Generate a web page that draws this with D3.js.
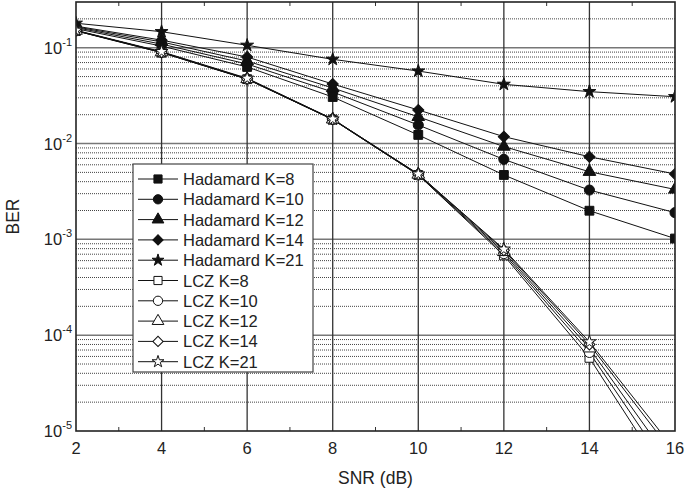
<!DOCTYPE html>
<html>
<head>
<meta charset="utf-8">
<script src="https://cdn.jsdelivr.net/npm/d3@7"></script>
<style>
  body { margin: 0; background: #fff; }
  text { font-family: "Liberation Sans", Arial, sans-serif; fill: #222; }
  .tick-label { font-size: 16.5px; }
  .axis-title { font-size: 17.5px; }
  .legend-text { font-size: 16.5px; }
</style>
</head>
<body>
<div id="chart"></div>
<script>
// data
const snr = [2, 4, 6, 8, 10, 12, 14, 16];
const xTicks = [2, 4, 6, 8, 10, 12, 14, 16];
const yDecades = [-5, -4, -3, -2, -1];

const had8  = [0.158, 0.104, 0.063, 0.0306, 0.0123, 0.0047, 0.00199, 0.00102];
const had10 = [0.162, 0.109, 0.0676, 0.0345, 0.0156, 0.00684, 0.00327, 0.0019];
const had12 = [0.165, 0.115, 0.0726, 0.038, 0.019, 0.0093, 0.00508, 0.00332];
const had14 = [0.168, 0.12, 0.080, 0.0418, 0.0224, 0.0118, 0.00728, 0.00481];
const had21 = [0.18, 0.147, 0.106, 0.0757, 0.0571, 0.0415, 0.0348, 0.0308];

const lcz8  = [0.150, 0.089, 0.047, 0.0178, 0.0047, 0.00068, 0.000058, 0.0000024];
const lcz10 = [0.150, 0.089, 0.047, 0.0178, 0.0047, 0.00071, 0.000066, 0.0000032];
const lcz12 = [0.151, 0.090, 0.0472, 0.0179, 0.00475, 0.00074, 0.000073, 0.0000041];
const lcz14 = [0.151, 0.090, 0.0475, 0.018, 0.0048, 0.00077, 0.00008, 0.0000055];
const lcz21 = [0.152, 0.091, 0.048, 0.018, 0.0048, 0.00079, 0.000085, 0.0000063];

const seriesNames = ["Hadamard K=8", "Hadamard K=10", "Hadamard K=12", "Hadamard K=14", "Hadamard K=21",
                     "LCZ K=8", "LCZ K=10", "LCZ K=12", "LCZ K=14", "LCZ K=21"];
const seriesValues = [had8, had10, had12, had14, had21, lcz8, lcz10, lcz12, lcz14, lcz21];

// set the dimensions and margins of the graph
const margin = {top: 2, right: 10, bottom: 63, left: 76},
    width = 685 - margin.left - margin.right,
    height = 494 - margin.top - margin.bottom;

const svgRoot = d3.select("#chart")
  .append("svg")
    .attr("width", 685)
    .attr("height", 494);
const svg = svgRoot.append("g")
    .attr("transform", `translate(${margin.left},${margin.top})`);

const x = d3.scaleLinear().domain([2, 16]).range([0, width]);
const y = d3.scaleLog().domain([1e-5, 0.3]).range([height, 0]);

svg.append("clipPath").attr("id", "plotClip")
  .append("rect").attr("width", width).attr("height", height);

// minor horizontal grid (dotted)
const minorY = [];
for (let e = -5; e <= -1; e++) {
  for (let m = 2; m <= 9; m++) {
    const v = m * Math.pow(10, e);
    if (v < 0.3) minorY.push(v);
  }
}
svg.append("g").selectAll("line")
  .data(minorY)
  .join("line")
    .attr("x1", 0).attr("x2", width)
    .attr("y1", d => y(d)).attr("y2", d => y(d))
    .attr("stroke", "#444")
    .attr("stroke-width", 1)
    .attr("stroke-dasharray", "1,1");

// major horizontal grid
svg.append("g").selectAll("line")
  .data(yDecades.slice(1))
  .join("line")
    .attr("x1", 0).attr("x2", width)
    .attr("y1", d => y(Math.pow(10, d))).attr("y2", d => y(Math.pow(10, d)))
    .attr("stroke", "#777")
    .attr("stroke-width", 1.5);

// vertical grid
svg.append("g").selectAll("line")
  .data(xTicks.slice(1, -1))
  .join("line")
    .attr("x1", d => x(d)).attr("x2", d => x(d))
    .attr("y1", 0).attr("y2", height)
    .attr("stroke", "#333")
    .attr("stroke-width", 1.3);

// minor x ticks
const minorX = [3, 5, 7, 9, 11, 13, 15];
svg.append("g").selectAll("line")
  .data(minorX)
  .join("line")
    .attr("x1", d => x(d)).attr("x2", d => x(d))
    .attr("y1", height).attr("y2", height - 4)
    .attr("stroke", "#333");
svg.append("g").selectAll("line")
  .data(minorX)
  .join("line")
    .attr("x1", d => x(d)).attr("x2", d => x(d))
    .attr("y1", 0).attr("y2", 4)
    .attr("stroke", "#333");

// symbols
function markerPath(i, scale) {
  const k = i % 5;
  const s = scale || 1;
  if (k === 0) return d3.symbol().type(d3.symbolSquare).size(78 * s)();
  if (k === 1) return d3.symbol().type(d3.symbolCircle).size(80 * s)();
  if (k === 2) return d3.symbol().type(d3.symbolTriangle).size(70 * s)();
  if (k === 3) return d3.symbol().type(d3.symbolSquare).size(62 * s)();
  return d3.symbol().type(d3.symbolStar).size(52 * s)();
}
function markerRotate(i) {
  return (i % 5 === 3) ? " rotate(45)" : "";
}

const line = d3.line()
  .x((d, i) => x(snr[i]))
  .y(d => y(d));

const plot = svg.append("g").attr("clip-path", "url(#plotClip)");

// lines
plot.append("g").selectAll("path")
  .data(seriesValues)
  .join("path")
    .attr("fill", "none")
    .attr("stroke", "#111")
    .attr("stroke-width", 1)
    .attr("d", d => line(d));

// markers
seriesValues.forEach((vals, si) => {
  plot.append("g").selectAll("path")
    .data(vals.map((v, i) => ({x: snr[i], v: v})).filter(d => d.v >= 1e-5))
    .join("path")
      .attr("d", markerPath(si))
      .attr("transform", d => `translate(${x(d.x)},${y(d.v)})${markerRotate(si)}`)
      .attr("fill", si < 5 ? "#111" : "#fff")
      .attr("stroke", "#111")
      .attr("stroke-width", 1);
});

// frame
svg.append("rect")
  .attr("width", width).attr("height", height)
  .attr("fill", "none")
  .attr("stroke", "#222")
  .attr("stroke-width", 1.6);

// x tick labels
svg.append("g").selectAll("text")
  .data(xTicks)
  .join("text")
    .attr("class", "tick-label")
    .attr("x", d => x(d))
    .attr("y", height + 23)
    .attr("text-anchor", "middle")
    .text(d => d);

// y tick labels
const yl = svg.append("g").selectAll("text")
  .data(yDecades)
  .join("text")
    .attr("class", "tick-label")
    .attr("x", -4)
    .attr("y", d => y(Math.pow(10, d)) + 6)
    .attr("text-anchor", "end");
yl.append("tspan").text("10");
yl.append("tspan")
  .attr("dy", -8)
  .attr("font-size", "11px")
  .text(d => d);

// axis titles
svg.append("text")
  .attr("class", "axis-title")
  .attr("x", width / 2)
  .attr("y", height + 53)
  .attr("text-anchor", "middle")
  .text("SNR (dB)");
svg.append("text")
  .attr("class", "axis-title")
  .attr("transform", `translate(${-57},${height / 2}) rotate(-90)`)
  .attr("text-anchor", "middle")
  .text("BER");

// legend
const lg = svgRoot.append("g").attr("transform", "translate(133,164)");
lg.append("rect")
  .attr("width", 180).attr("height", 208)
  .attr("fill", "#fff")
  .attr("stroke", "#444")
  .attr("stroke-width", 1.2);
seriesNames.forEach((name, i) => {
  const row = lg.append("g").attr("transform", `translate(0,${15 + i * 20.3})`);
  row.append("line")
    .attr("x1", 5).attr("x2", 45)
    .attr("stroke", "#111").attr("stroke-width", 1);
  row.append("path")
    .attr("d", markerPath(i, 0.85))
    .attr("transform", `translate(25,0)${markerRotate(i)}`)
    .attr("fill", i < 5 ? "#111" : "#fff")
    .attr("stroke", "#111");
  row.append("text")
    .attr("class", "legend-text")
    .attr("x", 50)
    .attr("y", 6)
    .text(name);
});
</script>
</body>
</html>
